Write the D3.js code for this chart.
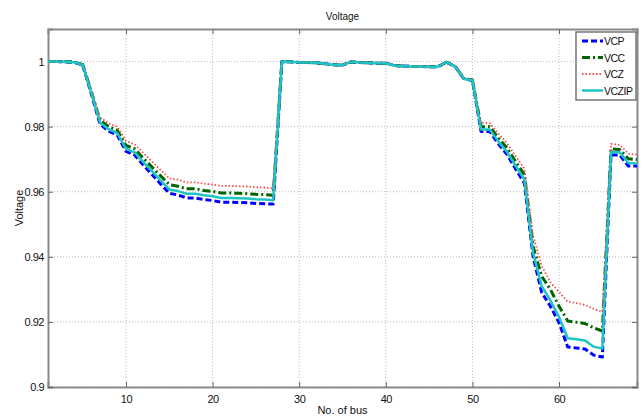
<!DOCTYPE html>
<html>
<head>
<meta charset="utf-8">
<script src="https://cdn.jsdelivr.net/npm/d3@7"></script>
<style>
  body { margin: 0; background: #fff; }
  text { font-family: "Liberation Sans", Arial, sans-serif; fill: #111; }
</style>
</head>
<body>
<svg id="chart" width="642" height="419"></svg>
<script>
// bus numbers 1..69
var buses = d3.range(1, 70);

var vcp = [1.0000, 1.0000, 0.9999, 0.9998, 0.9990, 0.9901, 0.9808, 0.9786, 0.9774, 0.9724,
  0.9713, 0.9682, 0.9653, 0.9624, 0.9595, 0.9590, 0.9581, 0.9581, 0.9576, 0.9573,
  0.9568, 0.9568, 0.9567, 0.9566, 0.9564, 0.9563, 0.9562, 0.9999, 0.9999, 0.9997,
  0.9997, 0.9996, 0.9993, 0.9990, 0.9989, 0.9999, 0.9997, 0.9996, 0.9995, 0.9995,
  0.9988, 0.9986, 0.9985, 0.9985, 0.9984, 0.9984, 0.9998, 0.9985, 0.9947, 0.9942,
  0.9785, 0.9785, 0.9747, 0.9714, 0.9669, 0.9626, 0.9401, 0.9290, 0.9248, 0.9197,
  0.9123, 0.9120, 0.9117, 0.9098, 0.9092, 0.9713, 0.9713, 0.9679, 0.9679];

var vcc = [1.0000, 1.0000, 0.9999, 0.9998, 0.9991, 0.9908, 0.9820, 0.9800, 0.9789, 0.9742,
  0.9732, 0.9703, 0.9676, 0.9649, 0.9622, 0.9617, 0.9609, 0.9609, 0.9604, 0.9601,
  0.9596, 0.9596, 0.9595, 0.9594, 0.9592, 0.9591, 0.9589, 0.9999, 0.9999, 0.9997,
  0.9997, 0.9996, 0.9993, 0.9990, 0.9989, 0.9999, 0.9997, 0.9996, 0.9995, 0.9995,
  0.9988, 0.9986, 0.9985, 0.9985, 0.9984, 0.9984, 0.9998, 0.9985, 0.9948, 0.9943,
  0.9800, 0.9800, 0.9765, 0.9734, 0.9692, 0.9652, 0.9432, 0.9340, 0.9300, 0.9248,
  0.9203, 0.9199, 0.9195, 0.9182, 0.9172, 0.9732, 0.9730, 0.9701, 0.9699];

var vcz = [1.0000, 1.0000, 0.9999, 0.9998, 0.9991, 0.9912, 0.9829, 0.9810, 0.9800, 0.9756,
  0.9746, 0.9719, 0.9693, 0.9667, 0.9641, 0.9637, 0.9629, 0.9629, 0.9625, 0.9622,
  0.9618, 0.9618, 0.9617, 0.9616, 0.9614, 0.9613, 0.9610, 0.9999, 0.9999, 0.9997,
  0.9997, 0.9996, 0.9993, 0.9990, 0.9989, 0.9999, 0.9997, 0.9996, 0.9995, 0.9995,
  0.9988, 0.9986, 0.9985, 0.9985, 0.9984, 0.9984, 0.9998, 0.9986, 0.9949, 0.9944,
  0.9812, 0.9811, 0.9778, 0.9749, 0.9709, 0.9671, 0.9465, 0.9372, 0.9322, 0.9292,
  0.9262, 0.9258, 0.9252, 0.9240, 0.9231, 0.9747, 0.9744, 0.9717, 0.9714];

var vczip = [1.0000, 1.0000, 0.9999, 0.9998, 0.9990, 0.9904, 0.9813, 0.9792, 0.9780, 0.9732,
  0.9721, 0.9691, 0.9663, 0.9635, 0.9607, 0.9602, 0.9594, 0.9594, 0.9589, 0.9586,
  0.9581, 0.9581, 0.9580, 0.9579, 0.9577, 0.9576, 0.9574, 0.9999, 0.9999, 0.9997,
  0.9997, 0.9996, 0.9993, 0.9990, 0.9989, 0.9999, 0.9997, 0.9996, 0.9995, 0.9995,
  0.9988, 0.9986, 0.9985, 0.9985, 0.9984, 0.9984, 0.9998, 0.9985, 0.9947, 0.9942,
  0.9791, 0.9791, 0.9754, 0.9722, 0.9679, 0.9637, 0.9412, 0.9310, 0.9266, 0.9215,
  0.9150, 0.9147, 0.9143, 0.9124, 0.9118, 0.9721, 0.9721, 0.9688, 0.9687];

var xTicks = [10, 20, 30, 40, 50, 60];
var yTicks = [0.9, 0.92, 0.94, 0.96, 0.98, 1];
var seriesNames = ["VCP", "VCC", "VCZ", "VCZIP"];

var series = [
  {name: "VCP", values: vcp, color: "#0000ff", width: 3, dash: "6,3"},
  {name: "VCC", values: vcc, color: "#006400", width: 3, dash: "8,3,2,3"},
  {name: "VCZ", values: vcz, color: "#ff4a4a", width: 1.8, dash: "1.5,2"},
  {name: "VCZIP", values: vczip, color: "#1fc4c4", width: 2.5, dash: null}
];

var plotL = 48, plotR = 637, plotT = 29, plotB = 387;

var svg = d3.select("#chart");

var x = d3.scaleLinear().domain([1, 69]).range([plotL, plotR]);
var y = d3.scaleLinear().domain([0.9, 1.01]).range([plotB, plotT]);

// grid
svg.append("g").selectAll("line").data(xTicks).join("line")
  .attr("x1", d => x(d)).attr("x2", d => x(d))
  .attr("y1", plotT).attr("y2", plotB)
  .attr("stroke", "#bdbdbd").attr("stroke-width", 1).attr("stroke-dasharray", "1,2");
svg.append("g").selectAll("line").data(yTicks).join("line")
  .attr("x1", plotL).attr("x2", plotR)
  .attr("y1", d => y(d)).attr("y2", d => y(d))
  .attr("stroke", "#bdbdbd").attr("stroke-width", 1).attr("stroke-dasharray", "1,2");

// axes (ticks inward, MATLAB style box)
var fmt = d => String(+d.toFixed(2));
svg.append("g").attr("transform", "translate(0," + plotB + ")")
  .call(d3.axisBottom(x).tickValues(xTicks).tickSize(-5).tickPadding(8).tickFormat(fmt));
svg.append("g").attr("transform", "translate(0," + plotT + ")")
  .call(d3.axisTop(x).tickValues(xTicks).tickSize(-5).tickFormat(""));
svg.append("g").attr("transform", "translate(" + plotL + ",0)")
  .call(d3.axisLeft(y).tickValues(yTicks).tickSize(-5).tickPadding(4).tickFormat(fmt));
svg.append("g").attr("transform", "translate(" + plotR + ",0)")
  .call(d3.axisRight(y).tickValues(yTicks).tickSize(-5).tickFormat(""));

svg.selectAll(".domain").attr("stroke", "#8a8a8a").attr("stroke-width", 2);
svg.selectAll(".tick line").attr("stroke", "#666");
svg.selectAll(".tick text").style("font-size", "11px").style("letter-spacing", "-0.5px").attr("fill", "#111");

// lines
var line = d3.line().x((d, i) => x(buses[i])).y(d => y(d));
series.forEach(function(s) {
  svg.append("path")
    .datum(s.values)
    .attr("d", line)
    .attr("fill", "none")
    .attr("stroke", s.color)
    .attr("stroke-width", s.width)
    .attr("stroke-dasharray", s.dash)
    .attr("stroke-linejoin", "round");
});

// titles
svg.append("text").attr("x", (plotL + plotR) / 2).attr("y", 20)
  .attr("text-anchor", "middle").style("font-size", "10px").text("Voltage");
svg.append("text").attr("x", (plotL + plotR) / 2).attr("y", 414)
  .attr("text-anchor", "middle").style("font-size", "11px").text("No. of bus");
svg.append("text").attr("transform", "translate(23," + (plotT + plotB) / 2 + ") rotate(-90)")
  .attr("text-anchor", "middle").style("font-size", "11px").text("Voltage");

// legend
var lg = svg.append("g").attr("transform", "translate(576,32)");
lg.append("rect").attr("width", 60).attr("height", 68)
  .attr("fill", "#fff").attr("stroke", "#777").attr("stroke-width", 1.5);
var rows = lg.selectAll("g").data(series).join("g")
  .attr("transform", (d, i) => "translate(0," + (9 + i * 16.5) + ")");
rows.append("line").attr("x1", 6).attr("x2", 27)
  .attr("stroke", d => d.color).attr("stroke-width", d => d.width)
  .attr("stroke-dasharray", d => d.dash);
rows.append("text").attr("x", 28).attr("y", 4)
  .style("font-size", "10.5px").style("letter-spacing", "-0.5px")
  .text((d, i) => seriesNames[i]);
</script>
</body>
</html>
